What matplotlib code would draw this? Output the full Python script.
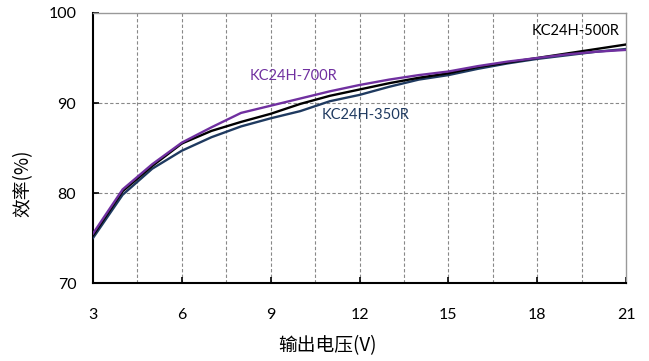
import matplotlib
matplotlib.use("Agg")
import matplotlib.pyplot as plt
import numpy as np

plt.rcParams['font.family'] = ['Lato', 'Noto Sans CJK SC', 'DejaVu Sans']

voltage = [3, 4, 5, 6, 7, 8, 9, 10, 11, 12, 13, 14, 15, 16, 17, 18, 19, 20, 21]
eff_700R = [75.5, 80.4, 83.2, 85.6, 87.3, 88.9, 89.7, 90.5, 91.3, 92.0, 92.6, 93.1, 93.5, 94.1, 94.6, 95.0, 95.4, 95.7, 95.9]
eff_500R = [75.3, 80.2, 83.0, 85.5, 86.9, 87.9, 88.8, 89.9, 90.8, 91.5, 92.2, 92.8, 93.3, 94.0, 94.5, 95.0, 95.5, 96.0, 96.5]
eff_350R = [75.0, 79.8, 82.7, 84.7, 86.2, 87.4, 88.3, 89.1, 90.2, 90.9, 91.8, 92.6, 93.1, 93.8, 94.4, 94.9, 95.3, 95.7, 96.0]
x_ticks = [3, 6, 9, 12, 15, 18, 21]
y_ticks = [70, 80, 90, 100]

fig = plt.figure(figsize=(6.49, 3.61), dpi=100)
ax = fig.add_axes([0.1433, 0.216, 0.8213, 0.748])

purple = '#7030A0'
navy = '#1F3A60'
ax.plot(voltage, eff_350R, color=navy, lw=1.7, zorder=3)
ax.plot(voltage, eff_500R, color='black', lw=1.7, zorder=4)
ax.plot(voltage, eff_700R, color=purple, lw=1.7, zorder=5)

ax.set_xlim(3, 21)
ax.set_ylim(70, 100)
ax.set_xticks(x_ticks)
ax.set_yticks(y_ticks)
for v in list(np.arange(4.5, 21, 1.5)):
    if 3 < v < 21:
        ax.axvline(v, color='#888888', ls=(0, (3, 2)), lw=0.8, zorder=1)
for v in [80, 90]:
    ax.axhline(v, color='#888888', ls=(0, (3, 2)), lw=0.8, zorder=1)

ax.tick_params(axis='both', which='major', direction='in', length=4, width=1.2, labelsize=11.5)
ax.tick_params(axis='x', which='major', pad=18)
ax.tick_params(axis='y', which='major', pad=12)
ax.tick_params(top=False, right=False)

for s in ['left', 'bottom']:
    ax.spines[s].set_color('black')
    ax.spines[s].set_linewidth(1.5)
for s in ['top', 'right']:
    ax.spines[s].set_color('#999999')
    ax.spines[s].set_linewidth(1.0)

ax.text(9.76, 93.0, 'KC24H-700R', color=purple, fontsize=10.5, ha='center', va='center')
ax.text(12.2, 88.7, 'KC24H-350R', color=navy, fontsize=10.5, ha='center', va='center')
ax.text(19.3, 98.0, 'KC24H-500R', color='black', fontsize=10.5, ha='center', va='center')

fig.text(0.504, 0.0416, '输出电压(V)', fontsize=13.5, ha='center', va='center',
         family=['Noto Sans CJK SC', 'DejaVu Sans'])
fig.text(0.0354, 0.493, '效率(%)', fontsize=13.5, ha='center', va='center', rotation=90,
         family=['Noto Sans CJK SC', 'DejaVu Sans'])

fig.savefig('out.png', dpi=100)
